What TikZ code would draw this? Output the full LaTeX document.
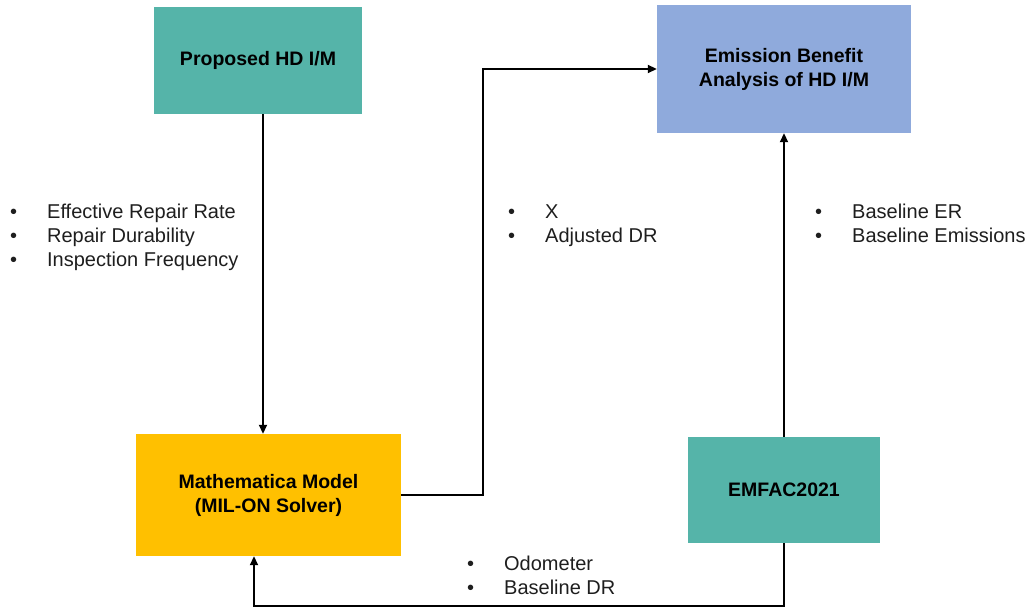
\documentclass[tikz,border=0pt]{standalone}
\usepackage{fontspec}
\setmainfont{Liberation Sans}
\usetikzlibrary{arrows.meta}
\definecolor{tealbox}{HTML}{55B4A9}
\definecolor{bluebox}{HTML}{8FAADC}
\definecolor{goldbox}{HTML}{FFC000}
\definecolor{txt}{HTML}{1E1E1E}
\tikzset{
  box/.style={inner sep=0pt, align=center, text=black,
    font=\fontsize{19.5}{24}\selectfont\bfseries},
  arr/.style={line width=1.8pt, -{Triangle[length=9pt,width=8pt]}},
  ln/.style={line width=1.8pt},
  item/.style={anchor=base west, inner sep=0pt, text=txt,
    font=\fontsize{20}{24}\selectfont}
}
\newcommand{\bul}[1]{\makebox[37pt][l]{\textbullet}#1}
\begin{document}
\begin{tikzpicture}[x=1pt,y=-1pt]
\useasboundingbox (0,0) rectangle (1031,609);
% boxes
\node[box, fill=tealbox, minimum width=208pt, minimum height=107pt] (prop) at (258,60.5) {Proposed HD I/M};
\node[box, fill=bluebox, minimum width=254pt, minimum height=128pt] (emis) at (784,69) {Emission Benefit\\Analysis of HD I/M};
\node[box, fill=goldbox, minimum width=265pt, minimum height=122pt] (math) at (268.5,495) {Mathematica Model\\(MIL-ON Solver)};
\node[box, fill=tealbox, minimum width=192pt, minimum height=106pt] (emfac) at (784,490) {EMFAC2021};
% route coordinates
\coordinate (c1) at (263,0);
\coordinate (c2) at (483,0);
\coordinate (c3) at (254,606);
% connectors
\draw[arr] (prop.south -| c1) -- (math.north -| c1);
\draw[arr] (math.east) -- (math.east -| c2) |- (emis.west);
\draw[arr] (emfac.north) -- (emis.south);
\draw[arr] (emfac.south) |- (c3) -- (math.south -| c3);
% bullet lists
\node[item] (a1) at (10,219) {\bul{Effective Repair Rate}};
\node[item] (a2) at (10,243) {\bul{Repair Durability}};
\node[item] (a3) at (10,267) {\bul{Inspection Frequency}};
\node[item] (b1) at (508,219) {\bul{X}};
\node[item] (b2) at (508,243) {\bul{Adjusted DR}};
\node[item] (d1) at (815,219) {\bul{Baseline ER}};
\node[item] (d2) at (815,243) {\bul{Baseline Emissions}};
\node[item] (e1) at (467,570) {\bul{Odometer}};
\node[item] (e2) at (467,594) {\bul{Baseline DR}};
\end{tikzpicture}
\end{document}
